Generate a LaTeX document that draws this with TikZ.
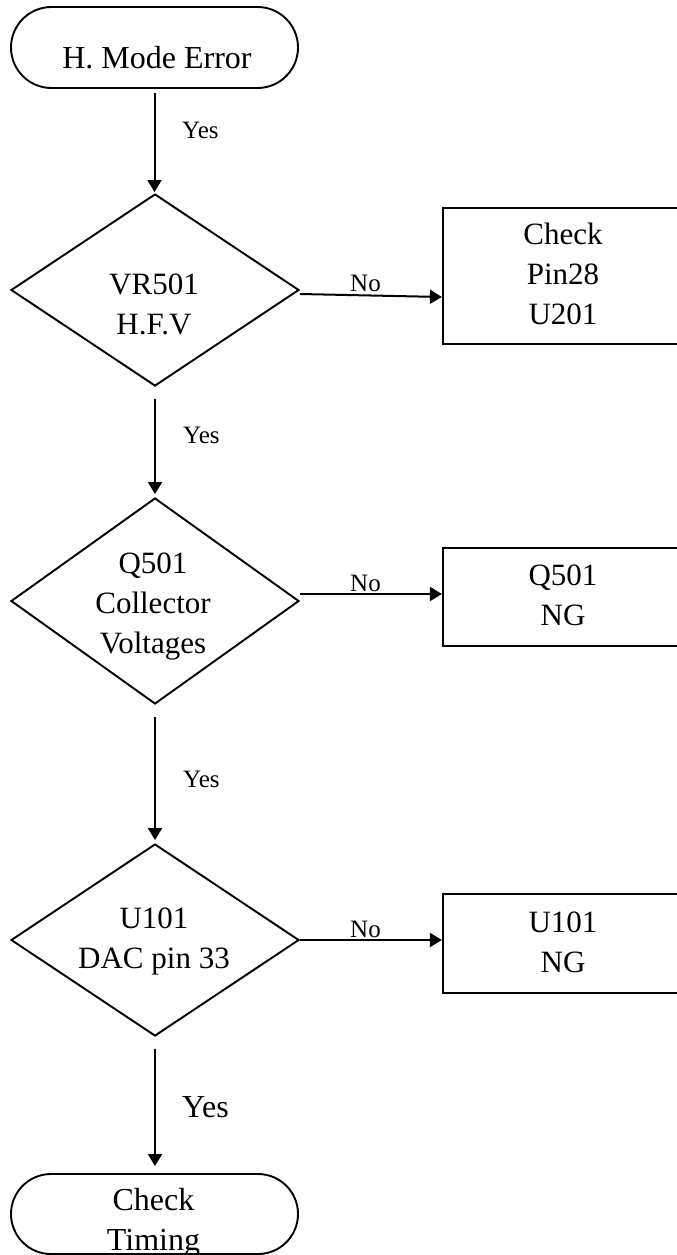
\documentclass[tikz,border=0pt]{standalone}
\usepackage{fontspec}
\setmainfont{Liberation Serif}
\usetikzlibrary{shapes.geometric,shapes.misc,arrows.meta}
\begin{document}
\begin{tikzpicture}[x=1pt,y=-1pt,
  term/.style={draw, rounded rectangle, line width=1.9pt, minimum width=287pt, minimum height=81pt, inner sep=0pt},
  dec/.style={draw, diamond, line width=1.9pt, minimum width=288pt, minimum height=192pt, inner sep=0pt},
  procbox/.style={draw, rectangle, line width=2.2pt, minimum width=240pt, inner sep=0pt},
  txt/.style={font=\fontsize{31}{40}\selectfont, align=center, anchor=base, inner sep=0pt},
  lab/.style={font=\fontsize{25}{30}\selectfont, anchor=base west, inner sep=0pt},
  arr/.style={-{Triangle[length=12pt,width=14pt]}, line width=2pt}]
\useasboundingbox (0,0) rectangle (677,1255);
\clip (0,0) rectangle (677,1255);
\fill[white] (0,0) rectangle (677,1255);

\node[term] (t1) at (154.5,47.5) {};
\node[txt, font=\fontsize{32}{40}\selectfont] (t1t) at (157,68) {H. Mode Error};

\node[dec] (d1) at (155,290) {};
\node[txt] (d1t) at (154,334.5) {VR501\\H.F.V};
\node[procbox, minimum height=136pt] (b1) at (563,276) {};
\node[txt] (b1t) at (563,324.5) {Check\\Pin28\\U201};

\node[dec, minimum height=206pt] (d2) at (155,601) {};
\node[txt] (d2t) at (153,653.5) {Q501\\Collector\\Voltages};
\node[procbox, minimum height=98pt] (b2) at (563,597) {};
\node[txt] (b2t) at (563,625.5) {Q501\\NG};

\node[dec] (d3) at (155,940) {};
\node[txt] (d3t) at (154,968.5) {U101\\DAC pin 33};
\node[procbox, minimum height=99pt] (b3) at (563,943.5) {};
\node[txt] (b3t) at (563,972.5) {U101\\NG};

\node[term, minimum height=80pt] (t2) at (154.5,1214) {};
\node[txt, font=\fontsize{32}{40}\selectfont] (t2t) at (153.5,1250.5) {Check\\Timing};

% vertical Yes connectors
\draw[arr, shorten <=4pt, shorten >=1pt] (t1.south) -- (t1.south |- d1.north);
\draw[arr, shorten <=12pt, shorten >=3pt] (d1.south) -- (d1.south |- d2.north);
\draw[arr, shorten <=12pt, shorten >=3pt] (d2.south) -- (d2.south |- d3.north);
\draw[arr, shorten <=12pt, shorten >=7pt] (d3.south) -- (d3.south |- t2.north);

\node[lab] (y1) at (182,138) {Yes};
\node[lab] (y2) at (183,443) {Yes};
\node[lab] (y3) at (183,787) {Yes};
\node[lab, font=\fontsize{32}{36}\selectfont] (y4) at (182,1117.5) {Yes};

% No connectors
\draw[arr] ([yshift=-4pt]d1.east) -- ([yshift=-7pt]d1.east -| b1.west);
\draw[arr] ([yshift=7pt]d2.east) -- ([yshift=7pt]d2.east -| b2.west);
\draw[arr] (d3.east) -- (d3.east -| b3.west);

\node[lab] (n1) at (350,291) {No};
\node[lab] (n2) at (350,591) {No};
\node[lab] (n3) at (350,937) {No};
\end{tikzpicture}
\end{document}
